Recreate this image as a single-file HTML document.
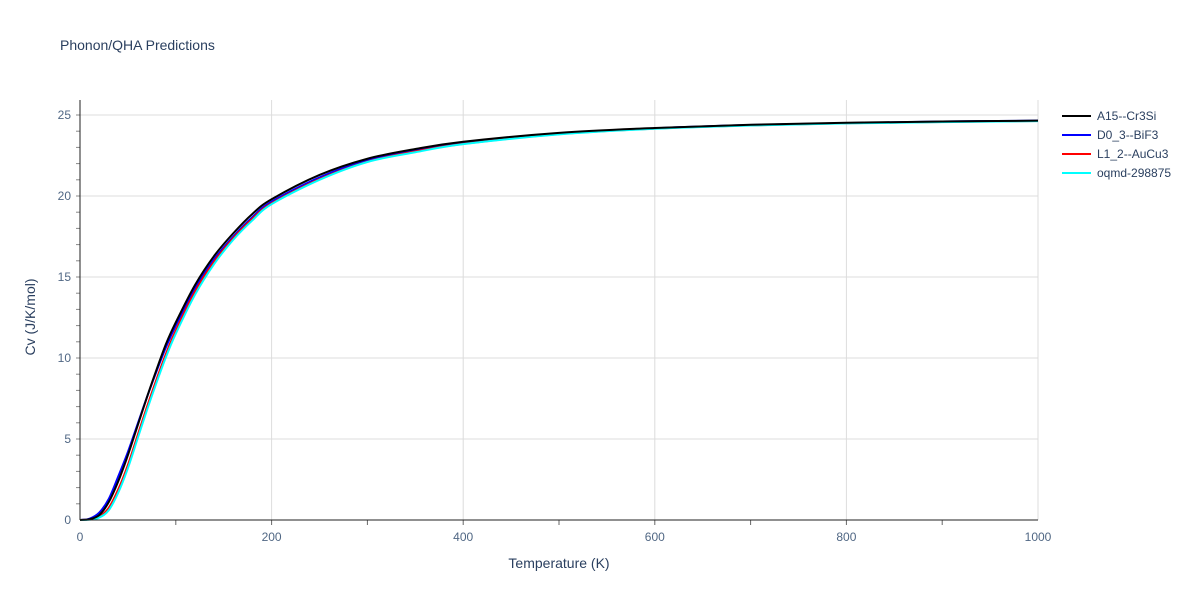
<!DOCTYPE html>
<html><head><meta charset="utf-8"><style>
body{margin:0;background:#fff;font-family:"Liberation Sans",sans-serif;}
text{font-family:"Liberation Sans",sans-serif;fill:#2a3f5f;}
</style></head><body>
<svg id="chart" width="1200" height="600" xmlns="http://www.w3.org/2000/svg">
<rect width="1200" height="600" fill="#fff"/>
<text x="60" y="50" font-size="14">Phonon/QHA Predictions</text>
<g id="grid"></g>
<g id="series"></g>
<g id="axes"></g>
<text x="559" y="568" font-size="14" text-anchor="middle">Temperature (K)</text>
<text transform="translate(35,317) rotate(-90)" font-size="14" text-anchor="middle">Cv (J/K/mol)</text>
<g id="legend"></g>
</svg>
<script>
const temps=[0,10,20,30,40,50,60,70,80,90,100,120,140,160,180,200,250,300,350,400,500,600,700,800,900,1000];
const cvA15=[0,0.05,0.3,1.1,2.4,4.0,5.8,7.6,9.3,10.9,12.2,14.5,16.3,17.7,18.9,19.8,21.3,22.3,22.9,23.35,23.9,24.2,24.4,24.52,24.6,24.65];
const cvD03=[0,0.08,0.45,1.3,2.7,4.2,5.9,7.6,9.2,10.7,12.0,14.3,16.1,17.5,18.7,19.65,21.15,22.2,22.8,23.28,23.85,24.18,24.38,24.5,24.6,24.65];
const cvL12=[0,0.03,0.2,0.75,1.9,3.4,5.2,7.0,8.7,10.3,11.7,14.1,15.95,17.4,18.6,19.55,21.05,22.12,22.75,23.22,23.82,24.16,24.36,24.49,24.57,24.63];
const cvOqmd=[0,0.02,0.15,0.6,1.7,3.2,5.0,6.8,8.5,10.1,11.5,13.9,15.8,17.3,18.5,19.5,21.0,22.1,22.7,23.2,23.8,24.15,24.35,24.48,24.56,24.62];
const xTicks=[0,200,400,600,800,1000];
const yTicks=[0,5,10,15,20,25];
const seriesNames=["A15--Cr3Si","D0_3--BiF3","L1_2--AuCu3","oqmd-298875"];
const seriesColors=["#000000","#0000ff","#ff0000","#00ffff"];
const seriesData=[cvA15,cvD03,cvL12,cvOqmd];
const X=v=>80+v*(958/1000), Y=v=>520-v*16.2;
const NS="http://www.w3.org/2000/svg";
function mk(tag,attrs,parent){const e=document.createElementNS(NS,tag);for(const k in attrs)e.setAttribute(k,attrs[k]);parent.appendChild(e);return e;}
function smoothPath(pts){let d='M'+pts[0][0]+','+pts[0][1];for(let i=0;i<pts.length-1;i++){const p0=pts[Math.max(0,i-1)],p1=pts[i],p2=pts[i+1],p3=pts[Math.min(pts.length-1,i+2)];
const c1=[p1[0]+(p2[0]-p0[0])/6,p1[1]+(p2[1]-p0[1])/6],c2=[p2[0]-(p3[0]-p1[0])/6,p2[1]-(p3[1]-p1[1])/6];
d+=' C'+c1[0]+','+c1[1]+' '+c2[0]+','+c2[1]+' '+p2[0]+','+p2[1];}return d;}
const grid=document.getElementById('grid'),axes=document.getElementById('axes'),ser=document.getElementById('series'),leg=document.getElementById('legend');
xTicks.forEach(t=>{if(t>0){const l=mk('line',{x1:X(t),x2:X(t),y1:100,y2:520,stroke:'#dcdcdc'},grid);

}
const tx=mk('text',{x:X(t),y:541,'font-size':12,'text-anchor':'middle',style:'fill:#506784'},axes);tx.textContent=t;

});
for(let t=100;t<1000;t+=100){mk('line',{x1:X(t),x2:X(t),y1:520,y2:525,stroke:'#666'},axes);}
yTicks.forEach(t=>{if(t>0){const l=mk('line',{x1:80,x2:1038,y1:Y(t),y2:Y(t),stroke:'#dcdcdc'},grid);

}
const tx=mk('text',{x:71,y:Y(t)+4,'font-size':12,'text-anchor':'end',style:'fill:#506784'},axes);tx.textContent=t;

});
for(let t=1;t<26;t++){mk('line',{x1:76,x2:80,y1:Y(t),y2:Y(t),stroke:'#888'},axes);}
mk('line',{x1:80,x2:1038,y1:520,y2:520,stroke:'#222'},axes);
mk('line',{x1:80,x2:80,y1:100,y2:520,stroke:'#222'},axes);
seriesData.forEach((d,i)=>{const p=mk('path',{d:smoothPath(d.map((v,j)=>[X(temps[j]),Y(v)])),fill:'none',stroke:seriesColors[i],'stroke-width':2},ser);

});
ser.appendChild(ser.firstChild);
seriesNames.forEach((n,i)=>{const y=116+i*19;const g=mk('g',{},leg);


mk('line',{x1:1062,x2:1091,y1:y,y2:y,stroke:seriesColors[i],'stroke-width':2},g);
const t=mk('text',{x:1097,y:y+4,'font-size':12},g);t.textContent=n;});
</script>
</body></html>
